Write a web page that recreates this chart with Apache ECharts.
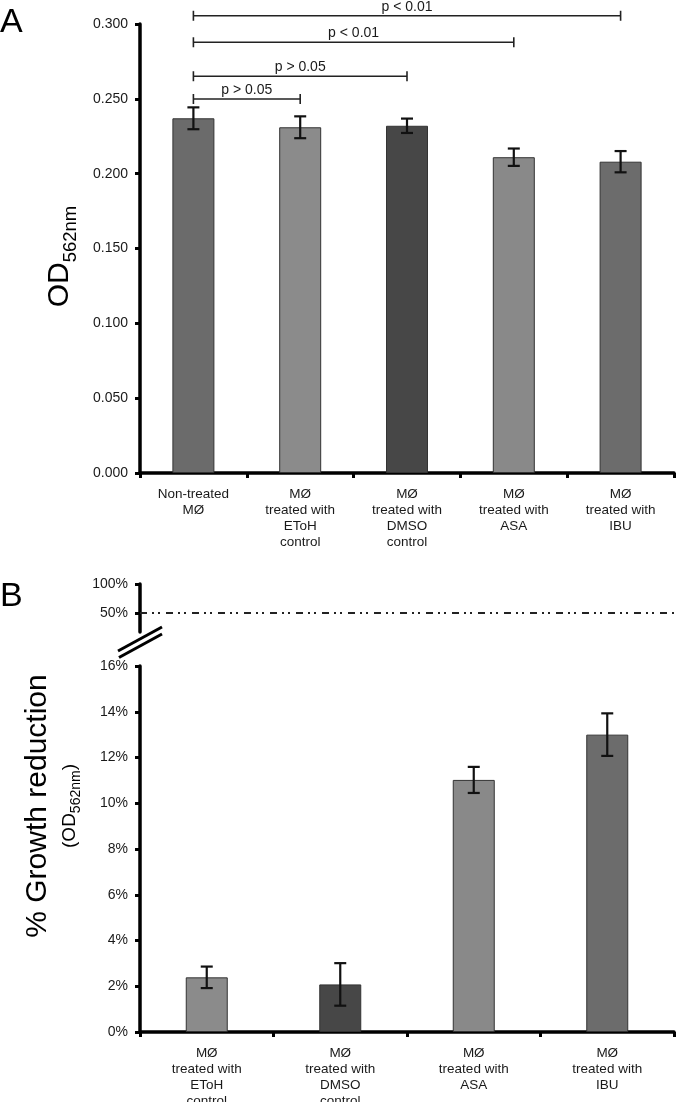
<!DOCTYPE html>
<html><head><meta charset="utf-8">
<script src="https://cdn.jsdelivr.net/npm/echarts@6/dist/echarts.min.js"></script>
<style>html,body{margin:0;padding:0;background:#fff}#c{width:680px;height:1102px}</style>
</head><body><div id="c"></div>
<script>
// ---------- data ----------
const categoriesA = ['Non-treated\nMØ', 'MØ\ntreated with\nEToH\ncontrol', 'MØ\ntreated with\nDMSO\ncontrol', 'MØ\ntreated with\nASA', 'MØ\ntreated with\nIBU'];
const odMean = [0.237, 0.231, 0.232, 0.211, 0.208];
const odErr = [0.0073, 0.0073, 0.0048, 0.0058, 0.0071];
const comparisonFrom = [0, 0, 0, 0];
const comparisonTo = [1, 2, 3, 4];
const comparisonLevel = [0.2499, 0.2651, 0.2878, 0.3055];
const comparisonLabel = ['p > 0.05', 'p > 0.05', 'p < 0.01', 'p < 0.01'];

const categoriesB = ['MØ\ntreated with\nEToH\ncontrol', 'MØ\ntreated with\nDMSO\ncontrol', 'MØ\ntreated with\nASA', 'MØ\ntreated with\nIBU'];
const growthMean = [2.39, 2.08, 11.02, 13.0];
const growthErr = [0.47, 0.93, 0.57, 0.93];
const upperTicksB = [50, 100];
const thresholdB = 50;

// ---------- styles / layout ----------
const colorsA = ['#6b6b6b', '#8b8b8b', '#474747', '#898989', '#6c6c6c'];
const colorsB = ['#8b8b8b', '#474747', '#898989', '#6c6c6c'];
const FONT = "'Liberation Sans', Arial, Helvetica, sans-serif";
const TXT = '#1a1a1a';
const L = 140;

const axisLineStyle = {show: true, lineStyle: {color: '#000', width: 3.5}};
const tickStyle = {show: true, length: 5, lineStyle: {color: '#000', width: 3}};
const yLabel = (fmt) => ({fontFamily: FONT, fontSize: 14, color: TXT, margin: 12, formatter: fmt});
const xLabel = {interval: 0, fontFamily: FONT, fontSize: 13.5, lineHeight: 16, color: TXT, margin: 13};

function errRender(params, api) {
  const i = api.value(0);
  const lo = api.coord([i, api.value(1)]);
  const hi = api.coord([i, api.value(2)]);
  const w = 6;
  const st = {stroke: '#111', lineWidth: 2.2};
  return {type: 'group', children: [
    {type: 'line', shape: {x1: lo[0], y1: lo[1], x2: hi[0], y2: hi[1]}, style: st},
    {type: 'line', shape: {x1: hi[0] - w, y1: hi[1], x2: hi[0] + w, y2: hi[1]}, style: st},
    {type: 'line', shape: {x1: lo[0] - w, y1: lo[1], x2: lo[0] + w, y2: lo[1]}, style: st}
  ]};
}
function bracketRender(params, api) {
  const a = api.coord([api.value(0), api.value(2)]);
  const b = api.coord([api.value(1), api.value(2)]);
  const st = {stroke: '#222', lineWidth: 1.6};
  const t = 5;
  return {type: 'group', children: [
    {type: 'line', shape: {x1: a[0], y1: a[1], x2: b[0], y2: b[1]}, style: st},
    {type: 'line', shape: {x1: a[0], y1: a[1] - t, x2: a[0], y2: a[1] + t}, style: st},
    {type: 'line', shape: {x1: b[0], y1: b[1] - t, x2: b[0], y2: b[1] + t}, style: st},
    {type: 'text', style: {text: comparisonLabel[params.dataIndex], x: (a[0] + b[0]) / 2, y: a[1] - 2,
      align: 'center', verticalAlign: 'bottom', font: '14px ' + FONT, fill: TXT}}
  ]};
}

const chart = echarts.init(document.getElementById('c'), null, {renderer: 'canvas'});
chart.setOption({
  animation: false,
  backgroundColor: '#fff',
  grid: [
    {left: L, right: 6, top: 24, height: 449, outerBoundsMode: 'none', containLabel: false},
    {left: L, right: 2, top: 584, height: 48, outerBoundsMode: 'none', containLabel: false},
    {left: L, right: 6, top: 666, height: 366, outerBoundsMode: 'none', containLabel: false}
  ],
  xAxis: [
    {type: 'category', gridIndex: 0, data: categoriesA, axisLine: axisLineStyle, axisTick: tickStyle, axisLabel: xLabel},
    {type: 'value', gridIndex: 1, min: 0, max: 1, show: false},
    {type: 'category', gridIndex: 2, data: categoriesB, axisLine: axisLineStyle, axisTick: tickStyle, axisLabel: xLabel}
  ],
  yAxis: [
    {type: 'value', gridIndex: 0, min: 0, max: 0.3, interval: 0.05, splitLine: {show: false},
      axisLine: axisLineStyle, axisTick: tickStyle, axisLabel: yLabel(v => v.toFixed(3)),
      name: '{a|OD}{b|562nm}', nameLocation: 'middle', nameRotate: 90, nameGap: 60,
      nameTextStyle: {padding: [0, 16, 0, 0], rich: {
        a: {fontFamily: FONT, fontSize: 30, lineHeight: 40, color: '#000'},
        b: {fontFamily: FONT, fontSize: 18.5, lineHeight: 20, verticalAlign: 'bottom', color: '#000'}
      }}},
    {type: 'value', gridIndex: 1, min: 17, max: 100, splitLine: {show: false},
      axisLine: axisLineStyle,
      axisTick: Object.assign({}, tickStyle, {customValues: upperTicksB}),
      axisLabel: Object.assign(yLabel('{value}%'), {customValues: upperTicksB})},
    {type: 'value', gridIndex: 2, min: 0, max: 16, interval: 2, splitLine: {show: false},
      axisLine: axisLineStyle, axisTick: tickStyle, axisLabel: yLabel('{value}%')}
  ],
  series: [
    {type: 'bar', xAxisIndex: 0, yAxisIndex: 0, barWidth: 42,
      itemStyle: {borderColor: '#333', borderWidth: 1},
      data: odMean.map((v, i) => ({value: v, itemStyle: {color: colorsA[i]}}))},
    {type: 'custom', xAxisIndex: 0, yAxisIndex: 0, renderItem: errRender, clip: false, z: 5,
      encode: {x: 0, y: [1, 2]},
      data: odMean.map((m, i) => [i, m - odErr[i], m + odErr[i]])},
    {type: 'custom', xAxisIndex: 0, yAxisIndex: 0, renderItem: bracketRender, clip: false, z: 5,
      encode: {x: [0, 1], y: 2},
      data: comparisonFrom.map((f, i) => [f, comparisonTo[i], comparisonLevel[i]])},
    {type: 'line', xAxisIndex: 1, yAxisIndex: 1, data: [[0, thresholdB]], showSymbol: false, symbol: 'none',
      lineStyle: {opacity: 0},
      markLine: {silent: true, symbol: 'none', label: {show: false},
        lineStyle: {type: [7, 5, 2, 4, 2, 6], color: '#222', width: 2},
        data: [{yAxis: thresholdB}]}},
    {type: 'bar', xAxisIndex: 2, yAxisIndex: 2, barWidth: 42,
      itemStyle: {borderColor: '#333', borderWidth: 1},
      data: growthMean.map((v, i) => ({value: v, itemStyle: {color: colorsB[i]}}))},
    {type: 'custom', xAxisIndex: 2, yAxisIndex: 2, renderItem: errRender, clip: false, z: 5,
      encode: {x: 0, y: [1, 2]},
      data: growthMean.map((m, i) => [i, m - growthErr[i], m + growthErr[i]])}
  ],
  graphic: [
    {type: 'text', left: 0, top: 6, style: {text: 'A', font: '34px ' + FONT, fill: '#000'}},
    {type: 'text', left: 0, top: 580, style: {text: 'B', font: '34px ' + FONT, fill: '#000'}},
    {type: 'line', shape: {x1: L - 22, y1: 651, x2: L + 22, y2: 627}, style: {stroke: '#000', lineWidth: 3}},
    {type: 'line', shape: {x1: L - 21, y1: 657.5, x2: L + 22, y2: 634}, style: {stroke: '#000', lineWidth: 3}},
    {type: 'text', x: 51, y: 806, rotation: Math.PI / 2,
      style: {text: '{t|% Growth reduction}\n{a|(OD}{b|562nm}{a|)}', align: 'center', verticalAlign: 'middle',
        rich: {
          t: {fontFamily: FONT, fontSize: 30, lineHeight: 38, fill: '#000', align: 'center'},
          a: {fontFamily: FONT, fontSize: 19, lineHeight: 26, fill: '#000'},
          b: {fontFamily: FONT, fontSize: 14, lineHeight: 16, verticalAlign: 'bottom', fill: '#000'}
        }}}
  ]
});
</script>
</body></html>
